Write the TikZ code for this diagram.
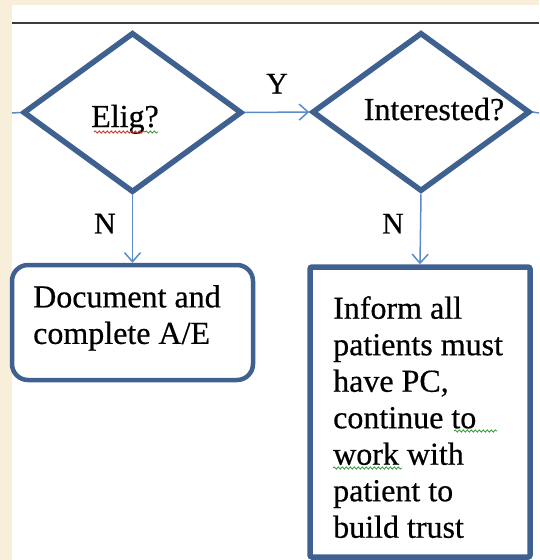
\documentclass[tikz,border=0pt]{standalone}
\usepackage{fontspec}
\setmainfont{Liberation Serif}[FakeBold=0.5]
\usetikzlibrary{shapes.geometric,arrows.meta,decorations.pathmorphing}

\definecolor{cream}{HTML}{F7EFDA}
\definecolor{frameblue}{HTML}{3F6190}
\definecolor{linkblue}{HTML}{5B8BC9}
\definecolor{rulegray}{HTML}{3C3C3C}
\definecolor{spellred}{HTML}{E03030}
\definecolor{spellgreen}{HTML}{40A040}

\tikzset{
  decision/.style={shape=diamond, draw=frameblue, line width=5.5pt, fill=white,
    minimum width=219pt, minimum height=160pt, inner sep=0pt},
  roundbox/.style={draw=frameblue, line width=4.5pt, fill=white, rounded corners=16pt,
    minimum width=241pt, minimum height=115pt, inner sep=0pt},
  squarebox/.style={draw=frameblue, line width=5.5pt, fill=white, rounded corners=2pt,
    minimum width=220pt, minimum height=290pt, inner sep=0pt},
  link/.style={draw=linkblue, line width=1.5pt},
  flow/.style={link, -{Straight Barb[length=9pt,width=16pt,line width=1.5pt]}},
  txt/.style={font=\fontsize{32}{36.5}\selectfont, text=black, inner sep=0pt},
  edgelbl/.style={font=\fontsize{30}{32}\selectfont, text=black, inner sep=0pt},
  squiggle/.style={line width=0.9pt, decorate,
    decoration={snake, amplitude=1.1pt, segment length=4pt}},
}

\begin{document}
\begin{tikzpicture}[x=1pt, y=-1pt]
  % page background and white sheet
  \fill[cream] (0,0) rectangle (539,560);
  \fill[white] (12,5) rectangle (539,560);
  \useasboundingbox (0,0) rectangle (539,560);
  \draw[rulegray, line width=2.5pt] (12,23) -- (539,23);

  % decision diamonds
  \node[decision] (elig) at (132.5,112.5) {};
  \node[decision, minimum width=218pt, minimum height=159pt] (inter) at (421,112) {};

  % outcome boxes
  \node[roundbox] (doc) at (132.5,322.5) {};
  \node[squarebox] (inform) at (420,412) {};

  % free ends of the horizontal flow line
  \coordinate (inflow) at (12,113);
  \coordinate (outflow) at (539,113);

  % connectors
  \draw[link] (inflow) -- (elig.west);
  \draw[flow] (elig.east) -- (inter.west) node[edgelbl, midway, above=18pt] (ylbl) {Y};
  \draw[link] (inter.east) -- (outflow);
  \draw[flow] (elig.south) -- (doc.north) node[edgelbl, pos=0.42, left=16pt] (nlbl1) {N};
  \draw[flow] (inter.south) -- (inform.north) node[edgelbl, pos=0.42, left=16pt] (nlbl2) {N};

  % texts
  \node[txt, anchor=base] (eligtxt) at (125,127) {Elig?};
  \node[txt, anchor=base] (intertxt) at (434,120) {Interested?};
  \node[txt, anchor=north west, align=left] (doctxt) at (33,285)
    {Document and\\complete A/E};
  \node[txt, anchor=north west, align=left] (informtxt) at (333,296)
    {Inform all\\patients must\\have PC,\\continue to\\work with\\patient to\\build trust};

  % spelling marks under words
  \draw[squiggle, spellred] (94,132) -- (145,132);
  \draw[squiggle, spellgreen] (145,132) -- (158,132);
  \draw[squiggle, spellgreen] (454,431) -- (497,431);
  \draw[squiggle, spellgreen] (333,468) -- (402,468);
\end{tikzpicture}
\end{document}
